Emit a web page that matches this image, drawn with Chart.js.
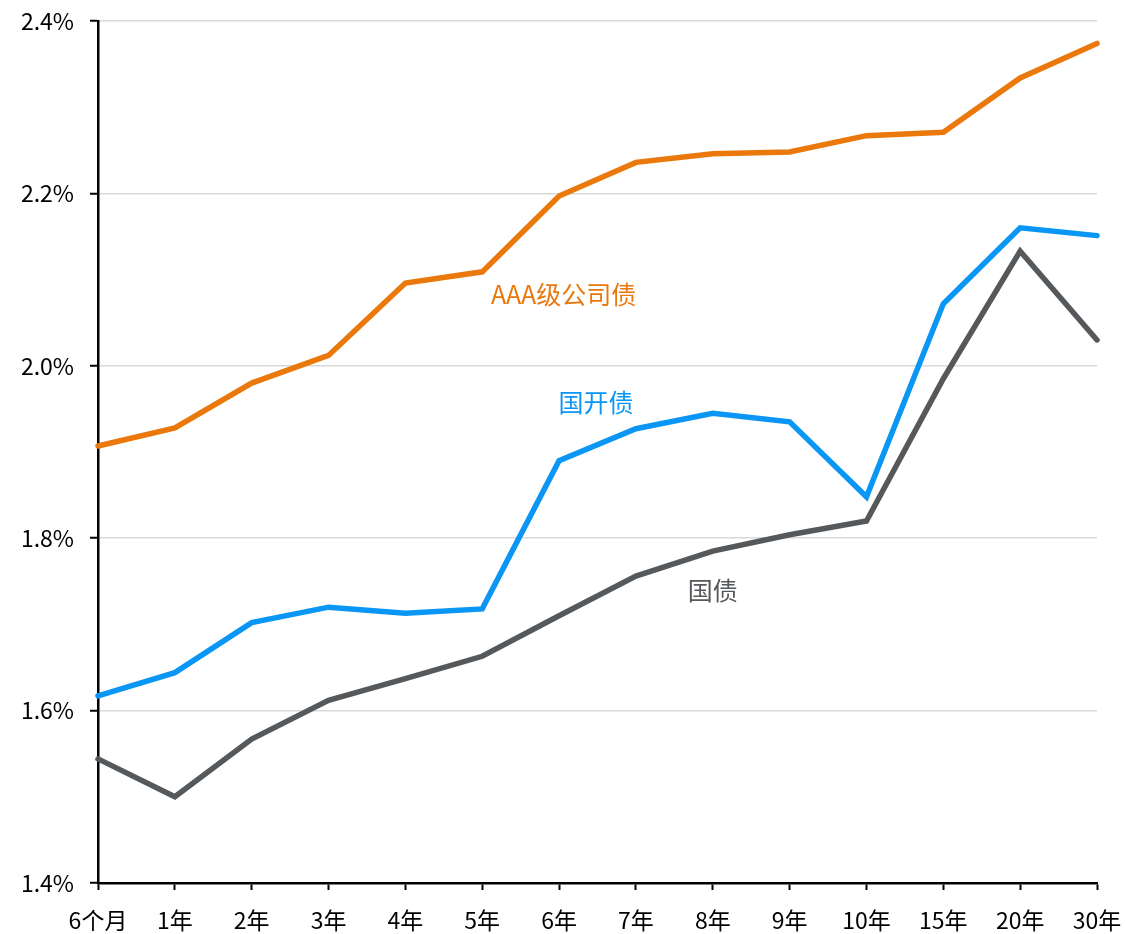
<!DOCTYPE html>
<html><head><meta charset="utf-8">
<script src="https://cdn.jsdelivr.net/npm/chart.js@4"></script>
<style>html,body{margin:0;padding:0;background:#fff;}#wrap{width:1125px;height:934px;}</style>
</head><body><div id="wrap"><canvas id="c" width="1125" height="934"></canvas></div>
<script>
const categories = ['6个月','1年','2年','3年','4年','5年','6年','7年','8年','9年','10年','15年','20年','30年'];
const aaaCorp = [1.907,1.928,1.980,2.012,2.096,2.109,2.197,2.236,2.246,2.248,2.267,2.271,2.334,2.374];
const cdbBond = [1.617,1.644,1.702,1.720,1.713,1.718,1.890,1.927,1.945,1.935,1.848,2.072,2.160,2.151];
const govBond = [1.544,1.500,1.567,1.612,1.637,1.663,1.710,1.756,1.785,1.804,1.820,1.985,2.133,2.030];
const seriesNames = ['AAA级公司债','国开债','国债'];
const yTicks = [1.4,1.6,1.8,2.0,2.2,2.4];
// label anchors in data coords: [category index, value]
const labelAnchors = [[6.06,2.083],[6.48,1.957],[8.0,1.739]];
const colors = ['#EA780A','#0A96F5','#56595C'];
const FONT = '"Noto Sans CJK SC","Noto Sans",sans-serif';

const labelPlugin = {
  id:'seriesLabels',
  afterDatasetsDraw(chart){
    const {ctx, scales:{x,y}} = chart;
    ctx.save();
    ctx.font = '25px ' + FONT;
    ctx.textAlign='center'; ctx.textBaseline='middle';
    seriesNames.forEach((n,i)=>{
      ctx.fillStyle = colors[i];
      ctx.fillText(n, x.getPixelForValue(labelAnchors[i][0]), y.getPixelForValue(labelAnchors[i][1]));
    });
    ctx.restore();
  }
};

new Chart(document.getElementById('c'),{
  type:'line',
  data:{labels:categories,datasets:[
    {label:seriesNames[0],data:aaaCorp,borderColor:colors[0]},
    {label:seriesNames[1],data:cdbBond,borderColor:colors[1]},
    {label:seriesNames[2],data:govBond,borderColor:colors[2]}
  ].map(d=>Object.assign(d,{borderWidth:5.5,pointRadius:0,tension:0,fill:false,clip:false,borderJoinStyle:'miter',borderCapStyle:'round'}))},
  options:{
    responsive:false,animation:false,
    layout:{padding:{top:21,right:28,left:0,bottom:0}},
    plugins:{legend:{display:false},tooltip:{enabled:false}},
    scales:{
      x:{
        offset:false,
        grid:{display:true,drawOnChartArea:false,tickColor:'#000',tickLength:7,tickWidth:2},
        border:{color:'#000',width:2.5},
        ticks:{color:'#000',font:{family:FONT,size:23},padding:16,maxRotation:0,autoSkip:false},
        afterFit(s){s.height=51;s.paddingLeft=0;s.paddingRight=0;}
      },
      y:{
        min:1.4,max:2.4,
        afterBuildTicks(s){s.ticks=yTicks.map(v=>({value:v}));},
        grid:{color:'#D9D9D9',lineWidth:1.5,tickColor:'#000',tickLength:8,tickWidth:2},
        border:{color:'#000',width:2.5},
        ticks:{color:'#000',font:{family:FONT,size:23},padding:16,callback:v=>v.toFixed(1)+'%'},
        afterFit(s){s.width=98;s.paddingTop=0;s.paddingBottom=0;}
      }
    }
  },
  plugins:[labelPlugin]
});
</script></body></html>
